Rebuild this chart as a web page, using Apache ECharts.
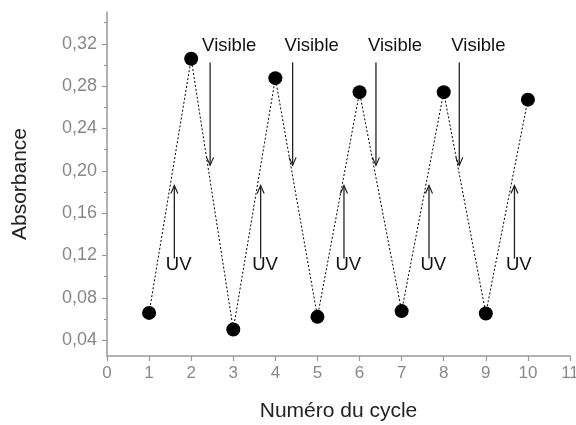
<!DOCTYPE html>
<html>
<head>
<meta charset="utf-8">
<script src="https://cdn.jsdelivr.net/npm/echarts@6/dist/echarts.min.js"></script>
<style>
html,body{margin:0;padding:0;background:#fff;}
#chart{width:576px;height:425px;}
</style>
</head>
<body>
<div id="chart"></div>
<script>
// ---- data ----
const cycles = [1, 2, 3, 4, 5, 6, 7, 8, 9, 10];
const absorbance = [0.0657, 0.3058, 0.0501, 0.2875, 0.0620, 0.2743, 0.0674, 0.2743, 0.0652, 0.2672];
const yTicks = [0.04, 0.08, 0.12, 0.16, 0.20, 0.24, 0.28, 0.32];
const yMinorTicks = [0.06, 0.10, 0.14, 0.18, 0.22, 0.26, 0.30, 0.34];
const uvArrowX = [1.6, 3.65, 5.63, 7.65, 9.68];
const uvArrowFrom = 0.117;
const uvArrowTo = 0.186;
const uvLabelY = 0.111;
const uvLabel = 'UV';
const visArrowX = [2.45, 4.41, 6.39, 8.37];
const visArrowFrom = 0.3024;
const visArrowTo = 0.2051;
const visLabelY = 0.3175;
const visLabel = 'Visible';

const FONT = '"Liberation Sans", Arial, sans-serif';
const chart = echarts.init(document.getElementById('chart'), null, {renderer: 'canvas'});

function arrowRender(labelText, labelY, textDx) {
  return function (params, api) {
    const x = api.value(0);
    const p0 = api.coord([x, api.value(1)]);
    const p1 = api.coord([x, api.value(2)]);
    const dir = p1[1] > p0[1] ? 1 : -1;
    const pl = api.coord([x, labelY]);
    return {
      type: 'group',
      children: [
        {type: 'line', shape: {x1: p0[0], y1: p0[1], x2: p1[0], y2: p1[1]},
         style: {stroke: '#222', lineWidth: 1.3}},
        {type: 'polyline', shape: {points: [[p1[0] - 3.5, p1[1] - dir * 8], [p1[0], p1[1]], [p1[0] + 3.5, p1[1] - dir * 8]]},
         style: {stroke: '#222', lineWidth: 1.2, fill: null}},
        {type: 'text', x: pl[0] + textDx, y: pl[1],
         style: {text: labelText, fill: '#111', font: '18.5px ' + FONT, align: 'left', verticalAlign: 'middle'}}
      ]
    };
  };
}

const option = {
  animation: false,
  backgroundColor: '#fff',
  grid: {left: 107, right: 6, top: 12, bottom: 69, containLabel: false, outerBoundsMode: 'none'},
  xAxis: {
    type: 'value', min: 0, max: 11, interval: 1,
    name: 'Numéro du cycle', nameLocation: 'middle', nameGap: 45,
    nameTextStyle: {fontFamily: FONT, fontSize: 21, color: '#222'},
    axisLine: {show: true, lineStyle: {color: '#999', width: 1.5}},
    axisTick: {show: true, length: 5, lineStyle: {color: '#999', width: 1.2}},
    axisLabel: {color: '#888', fontFamily: FONT, fontSize: 17, margin: 9, showMaxLabel: true, showMinLabel: true},
    splitLine: {show: false}
  },
  yAxis: [{
    type: 'value', min: 0.025, max: 0.35, position: 'left',
    name: 'Absorbance', nameLocation: 'middle', nameGap: 76,
    nameTextStyle: {fontFamily: FONT, fontSize: 21, color: '#222'},
    axisLine: {show: true, lineStyle: {color: '#999', width: 1.5}},
    axisTick: {show: true, length: 5, customValues: yTicks, lineStyle: {color: '#999', width: 1.2}},
    axisLabel: {color: '#888', fontFamily: FONT, fontSize: 18, margin: 10, customValues: yTicks,
      formatter: v => v.toFixed(2).replace('.', ',')},
    splitLine: {show: false}
  }, {
    type: 'value', min: 0.025, max: 0.35, position: 'left', offset: 0,
    axisLine: {show: false},
    axisTick: {show: true, length: 3, customValues: yMinorTicks, lineStyle: {color: '#999', width: 1.2}},
    axisLabel: {show: false},
    splitLine: {show: false}
  }],
  series: [
    {
      type: 'line',
      data: cycles.map((c, i) => [c, absorbance[i]]),
      symbol: 'circle', symbolSize: 14,
      itemStyle: {color: '#000'},
      lineStyle: {color: '#000', width: 1, type: [2, 2]},
      z: 5
    },
    {
      type: 'custom', coordinateSystem: 'cartesian2d',
      data: uvArrowX.map(x => [x, uvArrowFrom, uvArrowTo]),
      renderItem: arrowRender(uvLabel, uvLabelY, -8.5),
      z: 4
    },
    {
      type: 'custom', coordinateSystem: 'cartesian2d',
      data: visArrowX.map(x => [x, visArrowFrom, visArrowTo]),
      renderItem: arrowRender(visLabel, visLabelY, -8),
      z: 4
    }
  ]
};
chart.setOption(option);
</script>
</body>
</html>
